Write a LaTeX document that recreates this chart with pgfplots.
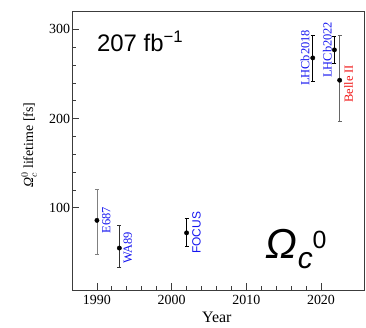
\documentclass[border=0pt]{standalone}
\usepackage{fontspec}
\setmainfont{Liberation Serif}
\newfontfamily\arial{Liberation Sans}
\usepackage{pgfplots}
\pgfplotsset{compat=1.18}
\definecolor{lblue}{RGB}{20,20,240}
\definecolor{lred}{RGB}{240,20,20}
\definecolor{framegray}{RGB}{60,60,60}
\pgfplotsset{
  pt/.style={only marks, mark=*, mark size=2.2bp, black, mark options={fill=black, solid},
    error bars/.cd, y dir=both, y explicit,
    error bar style={#1, solid, line width=0.8bp},
    error mark options={rotate=90, mark size=2bp, #1, solid}},
}
\begin{document}
\begin{tikzpicture}
\useasboundingbox (-72.3bp,-38bp) rectangle (293.7bp,290bp);
\begin{axis}[
  at={(0,0)}, anchor=south west,
  scale only axis, width=292bp, height=278.5bp,
  xmin=1986.7, xmax=2025.8, ymin=8, ymax=320,
  xtick={1990,2000,2010,2020}, ytick={100,200,300},
  minor x tick num=4, minor y tick num=4,
  tick align=inside, xtick pos=bottom, ytick pos=left,
  major tick length=7bp, minor tick length=4bp,
  axis line style={framegray, line width=1bp},
  tick style={framegray, line width=0.8bp},
  /pgf/number format/assume math mode=true,
  /pgf/number format/1000 sep={},
  ticklabel style={font=\fontsize{14}{16}\selectfont, inner sep=0pt},
  xticklabel style={yshift=-5bp},
  yticklabel style={xshift=-2bp},
  xlabel={Year},
  xlabel style={font=\fontsize{16}{18}\selectfont, at={(axis description cs:0.495,-0.097)}, anchor=center},
  ylabel={$\mbox{\itshape Ω}_c^0$ lifetime [fs]},
  ylabel style={font=\fontsize{14}{16}\selectfont, at={(axis description cs:-0.148,0.52)}, anchor=center},
  clip=false,
]
% E687
\addplot[pt=gray] coordinates {(1990,86) += (0,35) -= (0,38)};
% WA89
\addplot[pt=black!80] coordinates {(1993,55) += (0,26) -= (0,22)};
% FOCUS
\addplot[pt=black] coordinates {(2002,72) += (0,16) -= (0,15)};
% LHCb2018
\addplot[pt=black] coordinates {(2018.9,268) += (0,26) -= (0,26)};
% LHCb2022
\addplot[pt=black] coordinates {(2021.8,277) += (0,15) -= (0,15)};
% Belle II
\addplot[pt=gray!80!black] coordinates {(2022.5,243) += (0,50) -= (0,46)};

\node[rotate=90, anchor=north, inner sep=0pt, text=lblue, font=\fontsize{12.5}{14}\selectfont] at ([xshift=5bp]axis cs:1990,86) {E687};
\node[rotate=90, anchor=north, inner sep=0pt, text=lblue, font=\fontsize{12.5}{14}\selectfont] at ([xshift=4bp]axis cs:1993,55) {WA89};
\node[rotate=90, anchor=north, inner sep=0pt, text=lblue, font=\arial\fontsize{12}{14}\selectfont] at ([xshift=5.5bp]axis cs:2002,72) {FOCUS};
\node[rotate=90, anchor=south, inner sep=0pt, text=lblue, font=\fontsize{12.5}{14}\selectfont] at ([xshift=-3bp]axis cs:2018.9,268) {LHCb2018};
\node[rotate=90, anchor=south, inner sep=0pt, text=lblue, font=\fontsize{12.5}{14}\selectfont] at ([xshift=-2.5bp]axis cs:2021.8,277) {LHCb2022};
\node[rotate=90, anchor=north, inner sep=0pt, text=lred, font=\fontsize{12.5}{14}\selectfont] at ([xshift=4.3bp,yshift=-3.5bp]axis cs:2022.5,243) {Belle II};

\node[anchor=base west, inner sep=0pt, font=\arial\fontsize{24}{26}\selectfont] at (axis cs:1990,275.4) {207 fb\textsuperscript{−1}};
\node[anchor=base west, inner sep=0pt, font=\arial\fontsize{42}{44}\selectfont] at (axis cs:2012.6,43.4)
  {\itshape Ω\raisebox{-10bp}{\fontsize{30}{30}\selectfont\itshape c}\raisebox{10bp}{\fontsize{25}{25}\selectfont\upshape 0}};
\end{axis}
\end{tikzpicture}
\end{document}
